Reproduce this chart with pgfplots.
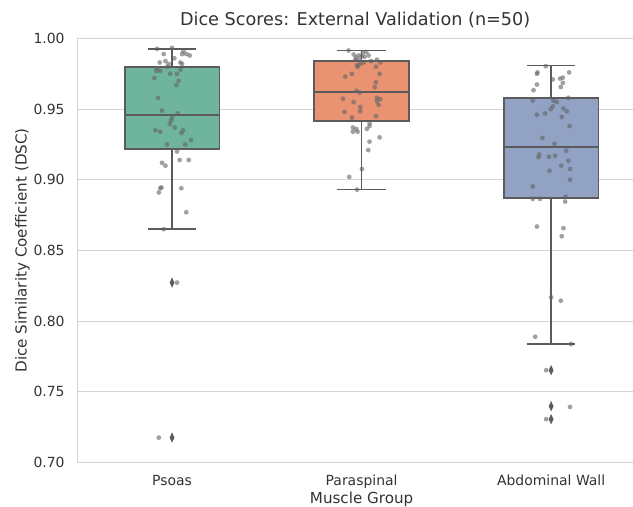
\documentclass[border=0pt]{standalone}
\usepackage{pgfplots}
\pgfplotsset{compat=1.18}
\usepackage{fontspec}
\setmainfont{DejaVu Sans}
\definecolor{cGreen}{HTML}{6FB59E}
\definecolor{cOrange}{HTML}{E99373}
\definecolor{cBlue}{HTML}{92A2C4}
\definecolor{lineg}{HTML}{5B5B5B}
\definecolor{gridg}{HTML}{D4D4D4}
\definecolor{txt}{HTML}{333333}
\definecolor{dotg}{HTML}{636363}

\pgfplotstableread{
x y
-0.079 0.9927
0.000 0.9934
-0.044 0.9890
0.053 0.9890
0.075 0.9890
0.093 0.9880
-0.065 0.9830
-0.035 0.9840
-0.018 0.9820
0.044 0.9830
0.053 0.9820
-0.079 0.9790
-0.062 0.9770
-0.083 0.9770
-0.026 0.9800
0.044 0.9780
0.026 0.9750
-0.093 0.9720
0.035 0.9700
0.023 0.9670
-0.074 0.9580
-0.053 0.9490
0.030 0.9470
0.000 0.9440
-0.005 0.9420
-0.012 0.9395
0.014 0.9370
0.058 0.9350
0.049 0.9330
-0.088 0.9350
-0.062 0.9340
0.100 0.9280
0.070 0.9250
-0.026 0.9250
0.026 0.9200
-0.053 0.9120
-0.035 0.9100
0.040 0.9140
0.088 0.9140
-0.062 0.8940
-0.070 0.8910
-0.056 0.8945
0.049 0.8940
0.075 0.8770
-0.044 0.8650
0.026 0.8272
-0.070 0.7175
0.012 0.9860
-0.010 0.9750
0.060 0.9910
}\psoas

\pgfplotstableread{
x y
0.931 0.9915
0.958 0.9887
0.984 0.9880
1.007 0.9900
1.025 0.9905
1.037 0.9880
0.967 0.9850
0.989 0.9850
1.011 0.9830
0.993 0.9820
0.976 0.9810
1.081 0.9850
1.099 0.9830
0.979 0.9800
1.076 0.9800
1.095 0.9750
0.949 0.9750
0.914 0.9730
1.076 0.9690
1.069 0.9655
0.972 0.9630
0.989 0.9618
0.902 0.9574
0.958 0.9550
1.081 0.9580
1.099 0.9570
1.081 0.9555
0.993 0.9515
0.993 0.9485
0.910 0.9480
0.949 0.9440
1.090 0.9530
1.076 0.9450
1.042 0.9400
1.042 0.9380
0.954 0.9370
0.972 0.9360
0.954 0.9340
0.979 0.9340
1.028 0.9360
1.095 0.9300
1.042 0.9270
1.035 0.9210
1.002 0.9076
0.935 0.9020
0.976 0.8930
1.015 0.9870
0.970 0.9865
1.050 0.9840
1.000 0.9875
}\paraspinal

\pgfplotstableread{
x y
1.972 0.9804
1.928 0.9760
1.925 0.9750
2.095 0.9760
2.009 0.9710
2.047 0.9716
2.062 0.9723
2.062 0.9686
2.051 0.9657
1.925 0.9674
1.907 0.9634
1.903 0.9560
2.012 0.9560
2.091 0.9580
2.009 0.9520
1.998 0.9500
2.065 0.9505
2.083 0.9485
1.925 0.9460
1.968 0.9470
2.056 0.9445
2.097 0.9380
1.954 0.9296
2.018 0.9255
2.079 0.9206
1.937 0.9180
1.933 0.9160
1.989 0.9163
2.021 0.9170
2.091 0.9135
2.053 0.9100
2.100 0.9076
1.991 0.9064
2.100 0.9000
1.903 0.8953
1.903 0.8865
1.942 0.8865
2.076 0.8880
2.074 0.8846
1.925 0.8669
2.065 0.8657
2.056 0.8600
2.000 0.8168
2.051 0.8144
1.916 0.7889
2.105 0.7837
1.974 0.7652
2.100 0.7392
1.974 0.7305
2.030 0.9550
}\abdominal

\pgfplotsset{
  boxline/.style={draw=lineg, line width=1.8bp, line join=miter, no marks},
  outlier/.style={only marks, mark=diamond*, mark size=4.6bp,
    mark options={draw=lineg, fill=lineg, line width=0.4bp, xscale=0.62}},
  strip/.style={only marks, mark=*, mark size=2.4bp,
    mark options={fill=dotg, fill opacity=0.6, draw opacity=0}},
}

\begin{document}
\begin{tikzpicture}
\begin{axis}[
  name=ax,
  scale only axis,
  width=555.7bp, height=423.8bp,
  xmin=-0.5, xmax=2.432,
  ymin=0.70, ymax=1.00,
  clip=false,
  axis line style={draw=none},
  major tick length=0pt,
  xtick={0,1,2},
  xticklabels={Psoas,Paraspinal,Abdominal Wall},
  ytick={0.70,0.75,0.80,0.85,0.90,0.95,1.00},
  yticklabels={0.70,0.75,0.80,0.85,0.90,0.95,1.00},
  ymajorgrids,
  grid style={gridg, line width=1bp},
  tick label style={font=\fontsize{14}{16}\selectfont, text=txt},
  yticklabel style={anchor=east, inner sep=0pt, xshift=-12.5bp},
  xticklabel style={anchor=base, inner sep=0pt, yshift=-23.2bp},
  title={Dice Scores: External Validation (n=50)},
  title style={at={(axis description cs:0.5,1.016)}, anchor=base, inner sep=0pt,
    font=\fontsize{17.7}{20}\selectfont, text=txt},
  xlabel={Muscle Group},
  xlabel style={at={(axis description cs:0.5116,-0.0972)}, anchor=base, inner sep=0pt,
    font=\fontsize{15.2}{18}\selectfont, text=txt},
  ylabel={Dice Similarity Coefficient (DSC)},
  ylabel style={at={(axis description cs:-0.091,0.5)}, anchor=base, inner sep=0pt, rotate=0,
    font=\fontsize{15.2}{18}\selectfont, text=txt},
]
\draw[gridg, line width=1bp] (rel axis cs:0,0) -- (rel axis cs:0,1);

% Psoas
\addplot[boxline] coordinates {(0,0.9218) (0,0.865)};
\addplot[boxline] coordinates {(0,0.9796) (0,0.9927)};
\addplot[boxline] coordinates {(-0.128,0.865) (0.128,0.865)};
\addplot[boxline] coordinates {(-0.128,0.9927) (0.128,0.9927)};
\addplot[boxline, fill=cGreen] coordinates {(-0.25,0.9218) (0.25,0.9218) (0.25,0.9796) (-0.25,0.9796)} -- cycle;
\addplot[boxline] coordinates {(-0.25,0.9461) (0.25,0.9461)};
\addplot[outlier] coordinates {(0,0.8272) (0,0.7175)};

% Paraspinal
\addplot[boxline] coordinates {(1,0.9416) (1,0.8931)};
\addplot[boxline] coordinates {(1,0.9839) (1,0.9915)};
\addplot[boxline] coordinates {(0.872,0.8931) (1.128,0.8931)};
\addplot[boxline] coordinates {(0.872,0.9915) (1.128,0.9915)};
\addplot[boxline, fill=cOrange] coordinates {(0.75,0.9416) (1.25,0.9416) (1.25,0.9839) (0.75,0.9839)} -- cycle;
\addplot[boxline] coordinates {(0.75,0.9624) (1.25,0.9624)};

% Abdominal Wall
\addplot[boxline] coordinates {(2,0.887) (2,0.7837)};
\addplot[boxline] coordinates {(2,0.9577) (2,0.9809)};
\addplot[boxline] coordinates {(1.872,0.7837) (2.128,0.7837)};
\addplot[boxline] coordinates {(1.872,0.9809) (2.128,0.9809)};
\addplot[boxline, fill=cBlue] coordinates {(1.75,0.887) (2.25,0.887) (2.25,0.9577) (1.75,0.9577)} -- cycle;
\addplot[boxline] coordinates {(1.75,0.9234) (2.25,0.9234)};
\addplot[outlier] coordinates {(2,0.7652) (2,0.7397) (2,0.7305)};

% strip points
\addplot[strip] table[x=x,y=y] {\psoas};
\addplot[strip] table[x=x,y=y] {\paraspinal};
\addplot[strip] table[x=x,y=y] {\abdominal};
\end{axis}
\pgfresetboundingbox
\path ([shift={(-77.3bp,-44.7bp)}]ax.south west) rectangle ([shift={(0bp,38.5bp)}]ax.north east);
\end{tikzpicture}
\end{document}
